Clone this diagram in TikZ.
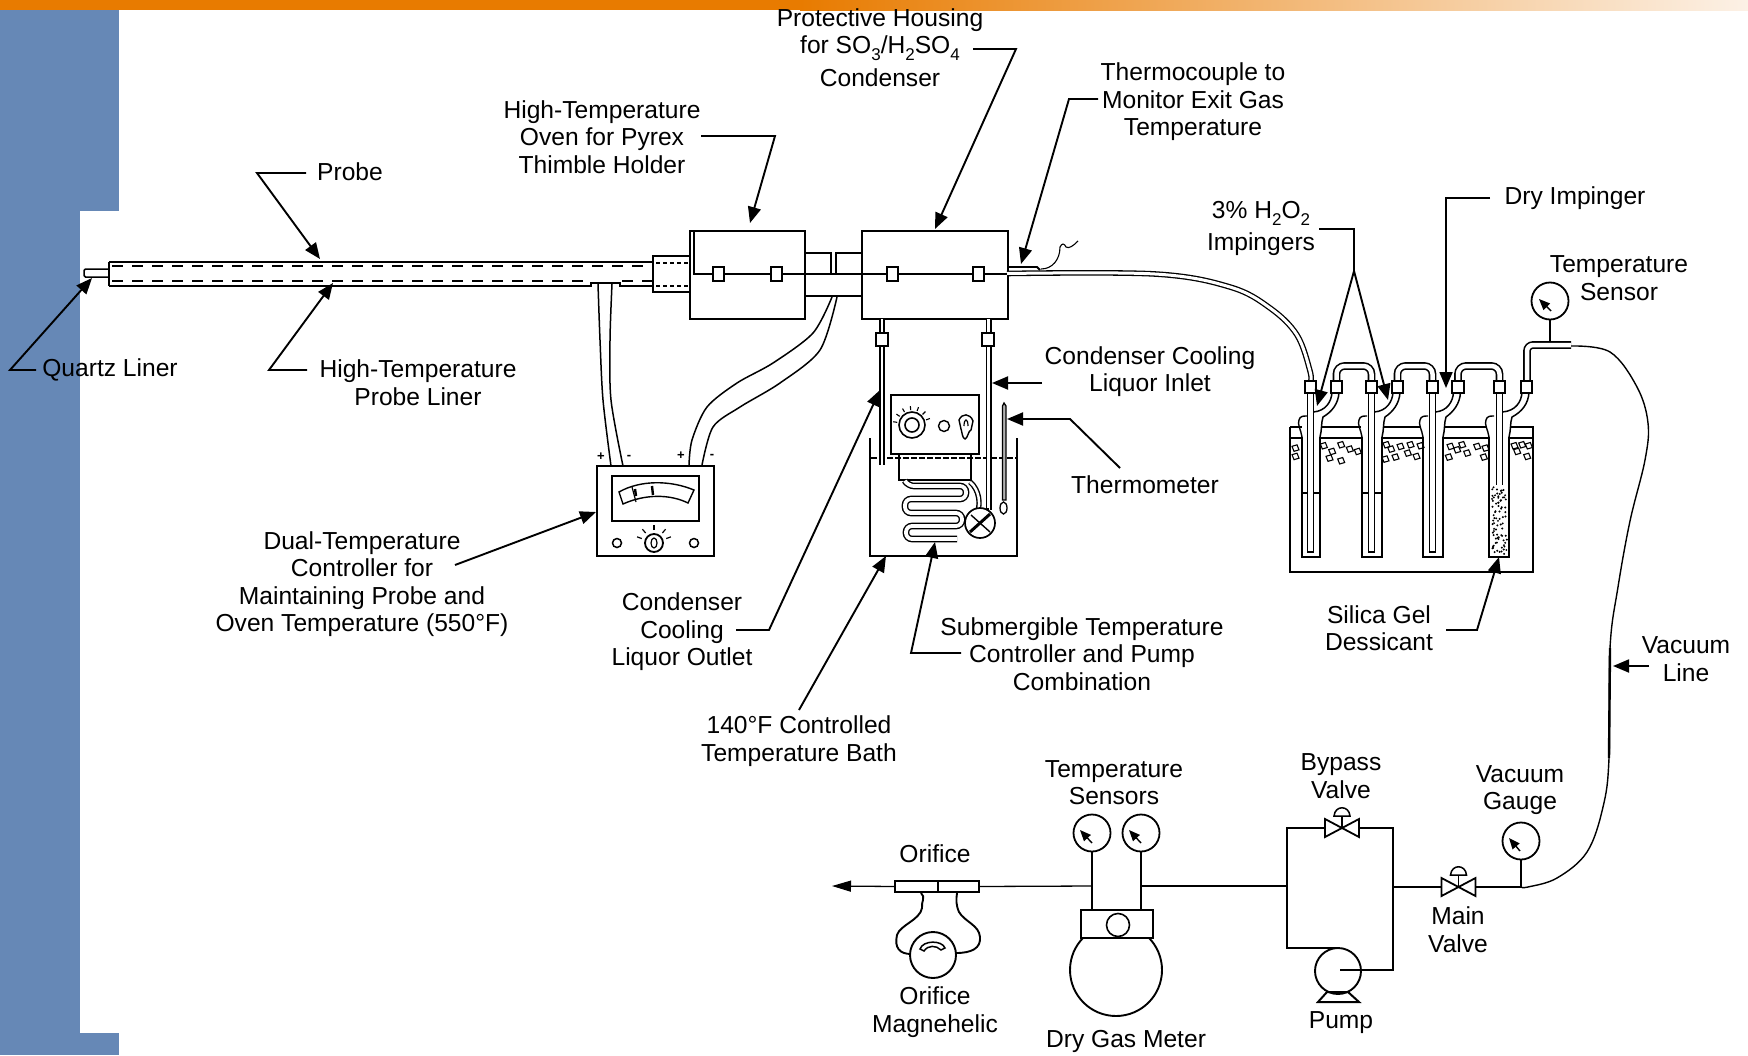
\documentclass[tikz,border=0pt]{standalone}
\usepackage{fontspec}
\setmainfont{Liberation Sans}
\usetikzlibrary{arrows.meta,calc}
\newcommand{\sbs}[1]{\raisebox{-0.28em}{\fontsize{17}{17}\selectfont #1}}
\definecolor{slideblue}{HTML}{6688B6}
\definecolor{slideorange}{HTML}{E87B00}
\definecolor{slidepale}{HTML}{FCF1E6}
\tikzset{
  x=1pt,y=-1pt,
  lab/.style={align=center,inner sep=0pt,font=\fontsize{24.6}{27.5}\selectfont},
  lead/.style={line width=1.9pt,-{Triangle[length=16pt,width=13pt]}},
  wire/.style={line width=1.3pt},
  hvy/.style={line width=2.6pt},
  equip/.style={draw,line width=2.6pt,fill=white,inner sep=0pt,outer sep=0pt},
  fitsq/.style={draw,line width=1.6pt,fill=white,inner sep=0pt,outer sep=0pt,minimum width=11.5pt,minimum height=11.5pt},
  clamp/.style={draw,line width=1.8pt,fill=white,inner sep=0pt,outer sep=0pt,minimum width=11pt,minimum height=14.5pt},
  gaugec/.style={circle,draw,line width=1.8pt,fill=white,inner sep=0pt,outer sep=0pt,minimum size=37pt},
  needle/.style={line width=1.4pt,-{Triangle[length=11pt,width=9pt]}},
  tube/.style={line width=1.6pt,double=white,double distance=4.5pt},
  thintube/.style={line width=1.3pt,double=white,double distance=3pt},
  cable/.style={line width=1.5pt},
  valvepic/.pic={
    \draw[line width=1.8pt,fill=white] (-17,-9)--(0,0)--(-17,9)--cycle;
    \draw[line width=1.8pt,fill=white] (17,-9)--(0,0)--(17,9)--cycle;
    \draw[line width=1.5pt] (0,0)--(0,-12);
    \draw[line width=1.5pt,fill=white] (-8,-12) .. controls (-7,-23) and (7,-23) .. (8,-12) -- cycle;
  },
}
\begin{document}
\begin{tikzpicture}
\useasboundingbox (0,0) rectangle (1748,1055);
% slide background
\fill[slideblue] (0,0) rectangle (119,211);
\fill[slideblue] (0,211) rectangle (80,1033);
\fill[slideblue] (0,1033) rectangle (119,1055);
\fill[slideorange] (0,0) rectangle (800,10);
\shade[left color=slideorange,right color=slidepale] (800,0) rectangle (1748,10);

% ---------- probe
\coordinate (tipL) at (84,273);
\draw[line width=1.5pt,fill=white,rounded corners=1.5pt] (109,269)--(84,269)--(84,277)--(109,277);
\draw[line width=1.6pt] (109,262)--(653,262);
\draw[line width=1.6pt] (109,262)--(109,286);
\draw[line width=2.8pt] (109,286)--(591,286)--(591,283)--(620,283)--(620,286)--(653,286);
\draw[line width=1.3pt,dash pattern=on 11pt off 9pt] (112,266)--(653,266);
\draw[line width=1.3pt,dash pattern=on 11pt off 9pt] (112,281)--(590,281);
\draw[line width=1.3pt,dash pattern=on 11pt off 9pt] (622,281)--(653,281);
% coupler
\node[equip,line width=2pt,minimum width=37pt,minimum height=36pt] (coupler) at (671.5,274) {};
\draw[line width=1.3pt,dash pattern=on 4pt off 3pt] (656,263)--(690,263);
\draw[line width=1.3pt,dash pattern=on 4pt off 3pt] (656,286)--(690,286);

% ---------- oven and condenser housing
\node[equip,minimum width=115pt,minimum height=88pt] (oven) at (747.5,275) {};
\node[equip,minimum width=146pt,minimum height=88pt] (cond) at (935,275) {};
\draw[line width=1.3pt] (694,232)--(694,274)--(805,274);
\draw[line width=1.3pt] (805,274)--(862,274);
\draw[line width=1.5pt] (805,296)--(862,296);
\draw[line width=1.6pt] (805,253)--(831,253)--(831,274);
\draw[line width=1.6pt] (862,253)--(836,253)--(836,274);
\draw[line width=2.2pt] (862,274)--(1008,274);
\node[clamp] (cA) at (718.5,274) {};
\node[clamp] (cB) at (776.5,274) {};
\node[clamp,line width=2.2pt] (cC) at (892.5,274) {};
\node[clamp,line width=2.2pt] (cD) at (978.5,274) {};

% ---------- exit gas line and thermocouple
\draw[thintube] plot[smooth,tension=.6] coordinates {(1007,273.5) (1155,274) (1230,287) (1270,308) (1297,335) (1310,371) (1310.5,382)};
\draw[line width=1.8pt] (1008,267)--(1037,267)--(1040,270);
\draw[line width=1.1pt] (1041,269) .. controls (1052,269) and (1060,260) .. (1060,247) .. controls (1062,243) and (1064,243) .. (1066,247) .. controls (1069,249) and (1073,246) .. (1078,241);

% ---------- controller cables
\draw[cable] plot[smooth] coordinates {(598,284) (600,340) (603,400) (611,466)};
\draw[cable] plot[smooth] coordinates {(612,284) (610,340) (611,400) (623,466)};
\draw[cable] plot[smooth] coordinates {(832,297) (813,333) (773,363) (737,383) (707,407) (692,440) (689,465)};
\draw[cable] plot[smooth] coordinates {(837,297) (820,350) (780,383) (740,407) (713,427) (702,465)};

% ---------- dual temperature controller
\node[equip,minimum width=117pt,minimum height=90pt] (ctrl) at (655.5,511) {};
\node[draw,line width=1.9pt,inner sep=0pt,outer sep=0pt,minimum width=87pt,minimum height=45pt] (meter) at (655.5,498.5) {};
\draw[line width=1.4pt] (619,492) .. controls (640,480) and (670,480) .. (694,490) -- (688,503) .. controls (670,494) and (645,494) .. (623,504) -- cycle;
\draw[line width=1.2pt] (632,487)--(636,502);
\draw[line width=2.4pt] (635,489)--(636,496);
\draw[line width=2.4pt] (652,486)--(653,495);
\node[circle,draw,line width=1.8pt,inner sep=0pt,minimum size=18pt] (dial) at (654,543) {};
\draw[line width=1.2pt] (654,543) ellipse (3 and 5);
\foreach \a in {200,230,270,310,340}
  \draw[line width=1.2pt] ($(dial.center)+(\a:13)$)--($(dial.center)+(\a:18)$);
\node[circle,draw,line width=1.5pt,inner sep=0pt,minimum size=9pt] (knobL) at (617,543) {};
\node[circle,draw,line width=1.5pt,inner sep=0pt,minimum size=9pt] (knobR) at (694,543) {};
\node[inner sep=0pt,font=\fontsize{13}{13}\selectfont\bfseries] (plusA) at (601,457) {+};
\node[inner sep=0pt,font=\fontsize{13}{13}\selectfont\bfseries] (minusA) at (629,457) {-};
\node[inner sep=0pt,font=\fontsize{13}{13}\selectfont\bfseries] (plusB) at (681,456) {+};
\node[inner sep=0pt,font=\fontsize{13}{13}\selectfont\bfseries] (minusB) at (712,456) {-};

% ---------- condenser bath
\draw[hvy] (870,438)--(870,556)--(1017,556)--(1017,438);
\draw[line width=1.2pt,dash pattern=on 6pt off 2pt] (871,458)--(1016,458);
\draw[line width=2.2pt] (899,454)--(899,480)--(971,480)--(971,454);
\draw[line width=1.4pt,double=white,double distance=3.8pt,rounded corners=6pt]
  (905,481)--(908,486)--(966,486)--(966,499)--(905,499)--(905,513)--(962,513)--(962,526)--(906,526)--(906,539)--(957,539);
\draw[line width=1.4pt,double=white,double distance=2.5pt] (970,482) .. controls (980,490) and (980,505) .. (978,510);
% liquor tubes
\draw[line width=1.5pt,double=white,double distance=2.6pt] (882,319)--(882,465);
\draw[line width=1.5pt,double=white,double distance=3pt] (988.5,319)--(988.5,510);
\node[fitsq,minimum width=12.5pt,minimum height=13pt] (fL) at (882,339.5) {};
\node[fitsq,minimum width=12.5pt,minimum height=13pt] (fR) at (988,339.5) {};
% submerged controller
\node[equip,minimum width=88pt,minimum height=59pt] (sub) at (935,424.5) {};
\node[circle,draw,line width=1.6pt,inner sep=0pt,minimum size=26pt] (knA) at (912,425) {};
\node[circle,draw,line width=1.6pt,inner sep=0pt,minimum size=14pt] (knAi) at (912,425) {};
\foreach \a in {190,215,240,265,290,315,340}
  \draw[line width=1.1pt] ($(knA.center)+(\a:15)$)--($(knA.center)+(\a:19)$);
\node[circle,draw,line width=1.4pt,inner sep=0pt,minimum size=11pt] (knB) at (944,426) {};
\draw[line width=1.4pt,fill=white] (959,420) .. controls (962,413) and (970,413) .. (973,421) -- (971,430) .. controls (968,431) and (968,438) .. (965,439) .. controls (962,438) and (962,431) .. (961,429) -- cycle;
\draw[line width=1.2pt] (964,426) .. controls (964,418) and (968,418) .. (968,426);
% stirrer/pump
\node[circle,draw,line width=1.7pt,fill=white,inner sep=0pt,minimum size=30pt] (pumpB) at (980,523) {};
\draw[line width=3pt] (970,532)--(990,514);
\draw[line width=1.4pt] (971,515)--(990,532);
\draw[line width=2pt] (988,508)--(988,511);
% thermometer
\draw[line width=1.3pt,fill=white!70!black] (1004,403)--(1006,406)--(1006,500)--(1002.5,500)--(1002.5,406)--cycle;
\draw[line width=1.3pt,fill=white] (1003.5,508) ellipse (3.5 and 6);

% ---------- impinger train
\draw[hvy] (1290,427)--(1302,427);
\draw[hvy] (1290,427)--(1290,572)--(1533,572)--(1533,427)--(1510,427);
\foreach \a/\b in {1322/1361,1384/1420,1445/1487}
  \draw[hvy] (\a,427)--(\b,427);
\foreach \a/\b in {1290/1302,1320/1362,1382/1423,1443/1489,1509/1533}
  \draw[line width=1.8pt] (\a,438)--(\b,438);
\foreach \X/\Y in {105/385,105/410,190/378,215/395,242/375,268/388,292/395,207/415,242/423,378/375,392/388,420/380,450/375,480/378,442/400,468/410,405/412,375/418,570/380,605/375,590/390,620/400,650/380,675/385,565/412,670/412,762/378,785/375,805/378,770/395,800/410}
  \draw[line width=1.1pt] ({\X/3+1260-3},{\Y/3+320-2}) -- ++(5,-1.5) -- ++(2,5) -- ++(-5,1.5) -- cycle;
\foreach \xl/\xr/\s/\c/\o in {1302/1320/1310.5/1336.5/1.5,1362/1382/1371.5/1397.5/1.5,1423/1443/1432.5/1458/1.5,1489/1509/1499.5/1526.5/1.5}{
  \draw[line width=2.4pt] (\xl,437)--(\xl,557)--(\xr,557)--(\xr,437);
  \draw[line width=1.4pt] (\xl,437) .. controls ({\xl-1},430) and ({\xl-5},424) .. ({\xl-3},420) .. controls ({\xl-2},416) and ({\xl+1},416) .. ({\xl+5},416);
  \draw[line width=1.5pt] ({\c-4.5},392) .. controls ({\c-5},402) and ({\c-11},411) .. ({\s+2.8},412);
  \draw[line width=1.5pt] ({\c+2.5},392) .. controls ({\c+2},404) and ({\c-5},412) .. ({\xr+3},417) .. controls ({\xr+1},423) and ({\xr+2},430) .. (\xr,437);
}
\draw[line width=1.2pt] (1303,493)--(1319,493);
\draw[line width=1.2pt] (1363,493)--(1381,493);
\foreach \s in {1310.5,1371.5,1432.5,1499.5}
  \draw[line width=1.4pt,fill=white] ({\s-3},392)--({\s-3},552)--({\s+3},552)--({\s+3},392);
% silica gel
\fill[white] (1491,485) rectangle (1507.5,555);
\pgfmathsetseed{7}
\foreach \n in {1,...,80}{
  \pgfmathsetmacro{\dx}{1492+rnd*15}
  \pgfmathsetmacro{\dy}{486+rnd*68}
  \fill (\dx,\dy) circle (1.1);
}
% connecting tubes
\draw[tube,rounded corners=8pt] (1336.5,381)--(1336.5,366)--(1371.5,366)--(1371.5,381);
\draw[tube,rounded corners=8pt] (1397.5,381)--(1397.5,366)--(1432.5,366)--(1432.5,381);
\draw[tube,rounded corners=8pt] (1458,381)--(1458,366)--(1499.5,366)--(1499.5,381);
\draw[tube,rounded corners=6pt] (1527,381)--(1527,345)--(1571,345);
\foreach \c/\k in {1310.5/a,1336.5/b,1371.5/c,1397.5/d,1432.5/e,1458/f,1499.5/g,1526.5/h}
  \node[fitsq] (fit\k) at (\c,387) {};
% temperature sensor
\node[gaugec] (gT) at (1550,301) {};
\coordinate (gTfoot) at (1550,342);
\draw[wire] (gT.south)--(gTfoot);
\draw[needle] ($(gT.center)+(1,10)$)--($(gT.center)+(-11,-2)$);

% ---------- vacuum line
\coordinate (vacStart) at (1571,346);
\coordinate (gVfoot) at (1521,887);
\draw[line width=1.4pt] plot[smooth,tension=.6] coordinates {(vacStart) (1610,352) (1637,387) (1648,423) (1645,460) (1630,521) (1618,587) (1610,648) (1609,758) (1603,807) (1587,852) (1557,878) (1528,887) (gVfoot)};
\draw[line width=2.4pt] (1610,648)--(1609,758);

% ---------- sampling train bottom row
\coordinate (mainL) at (832,886);
\node[equip,line width=2pt,minimum width=43pt,minimum height=11pt] (orL) at (916.5,886.5) {};
\node[equip,line width=2pt,minimum width=41pt,minimum height=11pt] (orR) at (958.5,886.5) {};
\node[gaugec] (gA) at (1092,833) {};
\node[gaugec] (gB) at (1141,833) {};
\node[gaugec] (gV) at (1521,841) {};
\coordinate (gAfoot) at (gA |- 0,910);
\coordinate (gBfoot) at (gB |- 0,910);
\draw[wire] (gA.south)--(gAfoot);
\draw[wire] (gB.south)--(gBfoot);
\draw[needle] ($(gA.center)+(0,10)$)--($(gA.center)+(-12,-3)$);
\draw[needle] ($(gB.center)+(0,10)$)--($(gB.center)+(-12,-3)$);
\draw[needle] ($(gV.center)+(-1,10)$)--($(gV.center)+(-12,-3)$);
\draw[wire] (gV.south)--(gVfoot);
\draw[wire,-{Triangle[length=19pt,width=11pt]}] (orL.west)--(mainL);
\draw[wire] (orR.east)--(gA |- 0,886);
\coordinate (bpLmid) at (1287,886);
\draw[wire] (gB |- 0,886)--(bpLmid);
% meter
\draw[line width=1.9pt,fill=white] (1116,970) circle (46);
\node[equip,line width=2.4pt,minimum width=72pt,minimum height=28pt] (dgm) at (1117,924) {};
\node[circle,draw,line width=1.6pt,inner sep=0pt,minimum size=23pt] (dgmc) at (1118,925) {};
% magnehelic
\draw[line width=1.9pt] (921,893) .. controls (926,897) and (921,902) .. (922,908) .. controls (920,920) and (900,925) .. (897,935) .. controls (894,948) and (900,954) .. (911,954);
\draw[line width=1.9pt] (957,893) .. controls (956,900) and (956,905) .. (959,912) .. controls (965,922) and (979,925) .. (980,937) .. controls (981,948) and (972,953) .. (956,953);
\node[circle,draw,line width=1.9pt,fill=white,inner sep=0pt,minimum size=46pt] (mag) at (933,955) {};
\draw[line width=1.5pt] (920,949) .. controls (923,940) and (942,940) .. (945,948) -- (941,950) .. controls (936,945) and (928,945) .. (924,951) -- cycle;
% bypass & pump
\coordinate (bpTL) at (1287,828);
\coordinate (bpBL) at (1287,948);
\coordinate (bpTR) at (1393,828);
\coordinate (bpBR) at (1393,970);
\pic at (1342,828) {valvepic};
\pic at (1458.5,887) {valvepic};
\coordinate (vB) at (1342,828);
\coordinate (vM) at (1458.5,887);
\draw[wire] (1325,828)--(bpTL)--(bpBL)--(1338,948);
\draw[wire] (1359,828)--(bpTR)--(bpBR)--(1340,970);
\draw[wire] (1393,887)--(1442,887);
\draw[wire] (1475,887)--(gVfoot);
\draw[line width=2pt,fill=white] (1327,992)--(1318,1002)--(1359,1002)--(1348,992)--cycle;
\node[circle,draw,line width=1.9pt,inner sep=0pt,minimum size=46pt] (pump) at (1338,971) {};
\draw[wire] (bpBR)--(1340,970);

% ---------- labels
\node[lab] (lProt) at (880,48) {Protective Housing\\[-1pt]for SO\sbs{3}/H\sbs{2}SO\sbs{4}\\[6pt]Condenser};
\node[lab] (lOven) at (602,137) {High-Temperature\\Oven for Pyrex\\Thimble Holder};
\node[lab] (lProbe) at (350,172) {Probe};
\node[lab] (lTC) at (1193,102) {Thermocouple to\\Monitor Exit Gas\\Temperature};
\node[lab] (lH2O2) at (1261,228.5) {3\% H\sbs{2}O\sbs{2}\\[5pt]Impingers};
\node[lab] (lDry) at (1575,198) {Dry Impinger};
\node[lab] (lTS) at (1619,278) {Temperature\\Sensor};
\node[lab] (lQ) at (110,370) {Quartz Liner};
\node[lab] (lHT) at (418,382.5) {High-Temperature\\Probe Liner};
\node[lab] (lCI) at (1150,371.5) {Condenser Cooling\\Liquor Inlet};
\node[lab] (lTher) at (1145,485) {Thermometer};
\node[lab] (lDual) at (362,584) {Dual-Temperature\\Controller for\\Maintaining Probe and\\Oven Temperature (550°F)};
\node[lab] (lCO) at (682,632) {Condenser\\Cooling\\Liquor Outlet};
\node[lab] (lSub) at (1082,654) {Submergible Temperature\\Controller and Pump\\Combination};
\node[lab] (lSil) at (1379,628) {Silica Gel\\Dessicant};
\node[lab] (lVL) at (1686,659) {Vacuum\\Line};
\node[lab] (lBath) at (799,741) {140°F Controlled\\Temperature Bath};
\node[lab] (lTSs) at (1114,782.5) {Temperature\\Sensors};
\node[lab] (lBy) at (1341,776) {Bypass\\Valve};
\node[lab] (lVG) at (1520,790) {Vacuum\\Gauge};
\node[lab] (lOr) at (935,854) {Orifice};
\node[lab] (lMV) at (1458,929.5) {Main\\Valve};
\node[lab] (lOM) at (935,1012) {Orifice\\Magnehelic};
\node[lab] (lDGM) at (1126,1041) {Dry Gas Meter};
\node[lab] (lPump) at (1341,1023) {Pump};

% ---------- leaders
\coordinate (pA) at (306,173); \coordinate (pB) at (257,173); \coordinate (pC) at (320,259);
\draw[lead] (pA)--(pB)--(pC);
\coordinate (qA) at (36,370); \coordinate (qB) at (10,370); \coordinate (qC) at (92,278);
\draw[lead] (qA)--(qB)--(qC);
\coordinate (hA) at (307,370); \coordinate (hB) at (269,370); \coordinate (hC) at (333,283);
\draw[lead] (hA)--(hB)--(hC);
\coordinate (oA) at (701,136); \coordinate (oB) at (775,136); \coordinate (oC) at (750,223);
\draw[lead] (oA)--(oB)--(oC);
\coordinate (phA) at (973,49); \coordinate (phB) at (1016,49); \coordinate (phC) at (935,229);
\draw[lead] (phA)--(phB)--(phC);
\coordinate (tcA) at (1098,99); \coordinate (tcB) at (1069,99); \coordinate (tcC) at (1021,264);
\draw[lead] (tcA)--(tcB)--(tcC);
\coordinate (ciA) at (1042,383); \coordinate (ciB) at (992,383);
\draw[lead] (ciA)--(ciB);
\coordinate (thA) at (1120,468); \coordinate (thB) at (1070,419); \coordinate (thC) at (1007,419);
\draw[lead] (thA)--(thB)--(thC);
\coordinate (coA) at (736,630); \coordinate (coB) at (769,630); \coordinate (coC) at (880,390);
\draw[lead] (coA)--(coB)--(coC);
\coordinate (duA) at (455,565); \coordinate (duB) at (596,512);
\draw[lead] (duA)--(duB);
\coordinate (baA) at (799,710); \coordinate (baB) at (886,556);
\draw[lead] (baA)--(baB);
\coordinate (suA) at (961,653); \coordinate (suB) at (911,653); \coordinate (suC) at (935,542);
\draw[lead] (suA)--(suB)--(suC);
\coordinate (imA) at (1319,229); \coordinate (imB) at (1354,229); \coordinate (imC) at (1354,271);
\coordinate (imD) at (1317,406); \coordinate (imE) at (1388,400);
\draw[line width=1.9pt] (imA)--(imB)--(imC);
\draw[lead] (imC)--(imD);
\draw[lead] (imC)--(imE);
\coordinate (drA) at (1490,198); \coordinate (drB) at (1446,198); \coordinate (drC) at (1446,388);
\draw[lead] (drA)--(drB)--(drC);
\coordinate (siA) at (1446,630); \coordinate (siB) at (1477,630); \coordinate (siC) at (1499,557);
\draw[lead] (siA)--(siB)--(siC);
\coordinate (vlA) at (1649,666); \coordinate (vlB) at (1613,666);
\draw[lead] (vlA)--(vlB);
\end{tikzpicture}
\end{document}
